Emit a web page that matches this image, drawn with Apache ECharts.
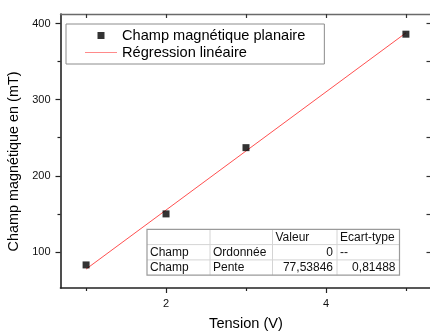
<!DOCTYPE html>
<html>
<head>
<meta charset="utf-8">
<script src="https://cdn.jsdelivr.net/npm/echarts@6/dist/echarts.min.js"></script>
<style>
html,body{margin:0;padding:0;background:#fff;}
#chart{width:430px;height:331px;}
</style>
</head>
<body>
<div id="chart"></div>
<script>
// ---- data ----
var tension = [1, 2, 3, 5];
var champ = [83, 150, 237, 386];
var regX = [1, 5];
var pente = 77.53846;
var ordonnee = 0;
var xMajorTicks = [2, 4];
var xMinorTicks = [1, 3, 5];
var xAllTicks = [1, 2, 3, 4, 5];
var yMajorTicks = [100, 200, 300, 400];
var yMinorTicks = [150, 250, 350];
var yAllTicks = [100, 150, 200, 250, 300, 350, 400];
var seriesNames = ['Champ magnétique planaire', 'Régression linéaire'];
var tableHeader = ['', '', 'Valeur', 'Ecart-type'];
var tableRows = [
  ['Champ', 'Ordonnée', '0', '--'],
  ['Champ', 'Pente', '77,53846', '0,81488']
];

var FONT = '"Liberation Sans", Arial, sans-serif';
var chart = echarts.init(document.getElementById('chart'));

var scatterData = tension.map(function (x, i) { return [x, champ[i]]; });
var regData = regX.map(function (x) { return [x, ordonnee + pente * x]; });

// table graphic
var colX = [147, 210, 272.5, 337, 399.5];
var rowY = [229.3, 244.6, 259.9, 275.2];
var tableChildren = [];
tableChildren.push({type: 'rect', shape: {x: colX[0], y: rowY[0], width: colX[4] - colX[0], height: rowY[3] - rowY[0]},
  style: {fill: '#fff', stroke: null}});
for (var c = 1; c < 4; c++) {
  tableChildren.push({type: 'line', shape: {x1: colX[c], y1: rowY[0], x2: colX[c], y2: rowY[3]}, style: {stroke: '#d4d4d4', lineWidth: 1}});
}
for (var r = 1; r < 3; r++) {
  tableChildren.push({type: 'line', shape: {x1: colX[0], y1: rowY[r], x2: colX[4], y2: rowY[r]}, style: {stroke: '#d4d4d4', lineWidth: 1}});
}
tableChildren.push({type: 'rect', shape: {x: colX[0], y: rowY[0], width: colX[4] - colX[0], height: rowY[3] - rowY[0]},
  style: {fill: null, stroke: '#9a9a9a', lineWidth: 1.2}});
var allRows = [tableHeader].concat(tableRows);
allRows.forEach(function (row, ri) {
  row.forEach(function (txt, ci) {
    if (!txt) return;
    var numeric = /^[0-9,.\-]+$/.test(txt) && txt !== '--';
    tableChildren.push({
      type: 'text',
      style: {
        text: txt,
        x: numeric ? colX[ci + 1] - 4 : colX[ci] + 3,
        y: (rowY[ri] + rowY[ri + 1]) / 2 + 0.5,
        textAlign: numeric ? 'right' : 'left',
        textVerticalAlign: 'middle',
        font: '12px ' + FONT,
        fill: '#111'
      }
    });
  });
});

var axisLineDark = {show: true, lineStyle: {color: '#222', width: 1.6}};
var axisLineGray = {show: true, lineStyle: {color: '#6a6a6a', width: 1.4}};

var xMin = 0.68, xMax = 5.32, yMin = 52.7, yMax = 412.5;

var option = {
  animation: false,
  backgroundColor: '#fff',
  grid: {left: 60.5, top: 14, width: 371, height: 274, containLabel: false, outerBoundsMode: 'none'},
  legend: {
    orient: 'vertical',
    left: 66, top: 24,
    padding: [4, 19, 4, 19],
    itemWidth: 32, itemHeight: 14, itemGap: 2,
    borderColor: '#8c8c8c', borderWidth: 1, backgroundColor: '#fff',
    textStyle: {fontSize: 14.6, fontFamily: FONT, color: '#000', lineHeight: 14},
    selectedMode: false,
    data: [
      {name: seriesNames[0], icon: 'path://M0,0L0,0M32,14L32,14M12.5,3.5L19.5,3.5L19.5,10.5L12.5,10.5Z', itemStyle: {color: '#000', borderWidth: 0}},
      {name: seriesNames[1], icon: 'path://M0,0L0,0M32,14L32,14M0,6.5L32,6.5L32,7.5L0,7.5Z', itemStyle: {color: '#ff8a8a', borderWidth: 0}}
    ]
  },
  xAxis: [
    {type: 'value', min: xMin, max: xMax, position: 'bottom',
     axisLine: axisLineDark, splitLine: {show: false},
     axisTick: {show: true, inside: false, length: 5, customValues: xMajorTicks, lineStyle: {color: '#222', width: 1.2}},
     axisLabel: {show: true, customValues: xMajorTicks, margin: 10, color: '#111', fontSize: 11, fontFamily: FONT},
     name: 'Tension (V)', nameLocation: 'middle', nameGap: 28.5,
     nameTextStyle: {fontSize: 14.6, fontFamily: FONT, color: '#000'}},
    {type: 'value', min: xMin, max: xMax, position: 'bottom',
     axisLine: {show: false}, splitLine: {show: false},
     axisTick: {show: true, inside: false, length: 3, customValues: xMinorTicks, lineStyle: {color: '#222', width: 1.2}},
     axisLabel: {show: false}},
    {type: 'value', min: xMin, max: xMax, position: 'top',
     axisLine: axisLineGray, splitLine: {show: false},
     axisTick: {show: true, inside: true, length: 4, customValues: xAllTicks, lineStyle: {color: '#333', width: 1.2}},
     axisLabel: {show: false}}
  ],
  yAxis: [
    {type: 'value', min: yMin, max: yMax, position: 'left',
     axisLine: axisLineDark, splitLine: {show: false},
     axisTick: {show: true, inside: false, length: 5, customValues: yMajorTicks, lineStyle: {color: '#222', width: 1.2}},
     axisLabel: {show: true, customValues: yMajorTicks, margin: 10, color: '#111', fontSize: 11, fontFamily: FONT},
     name: 'Champ magnétique en (mT)', nameLocation: 'middle', nameGap: 31,
     nameTextStyle: {fontSize: 14.4, fontFamily: FONT, color: '#000', padding: [0, 21, 0, 0]}},
    {type: 'value', min: yMin, max: yMax, position: 'left',
     axisLine: {show: false}, splitLine: {show: false},
     axisTick: {show: true, inside: false, length: 3, customValues: yMinorTicks, lineStyle: {color: '#222', width: 1.2}},
     axisLabel: {show: false}},
    {type: 'value', min: yMin, max: yMax, position: 'right',
     axisLine: axisLineGray, splitLine: {show: false},
     axisTick: {show: true, inside: true, length: 5, customValues: yAllTicks, lineStyle: {color: '#333', width: 1.2}},
     axisLabel: {show: false}}
  ],
  series: [
    {name: seriesNames[1], type: 'line', xAxisIndex: 0, yAxisIndex: 0, data: regData,
     showSymbol: false, symbol: 'none', lineStyle: {color: '#ff5050', width: 1}, itemStyle: {color: '#ff8080'}, z: 2},
    {name: seriesNames[0], type: 'scatter', xAxisIndex: 0, yAxisIndex: 0, data: scatterData,
     symbol: 'rect', symbolSize: 7, itemStyle: {color: '#000', borderWidth: 0}, z: 3}
  ],
  graphic: [{type: 'group', z: 50, children: tableChildren}]
};
chart.setOption(option);
</script>
</body>
</html>
